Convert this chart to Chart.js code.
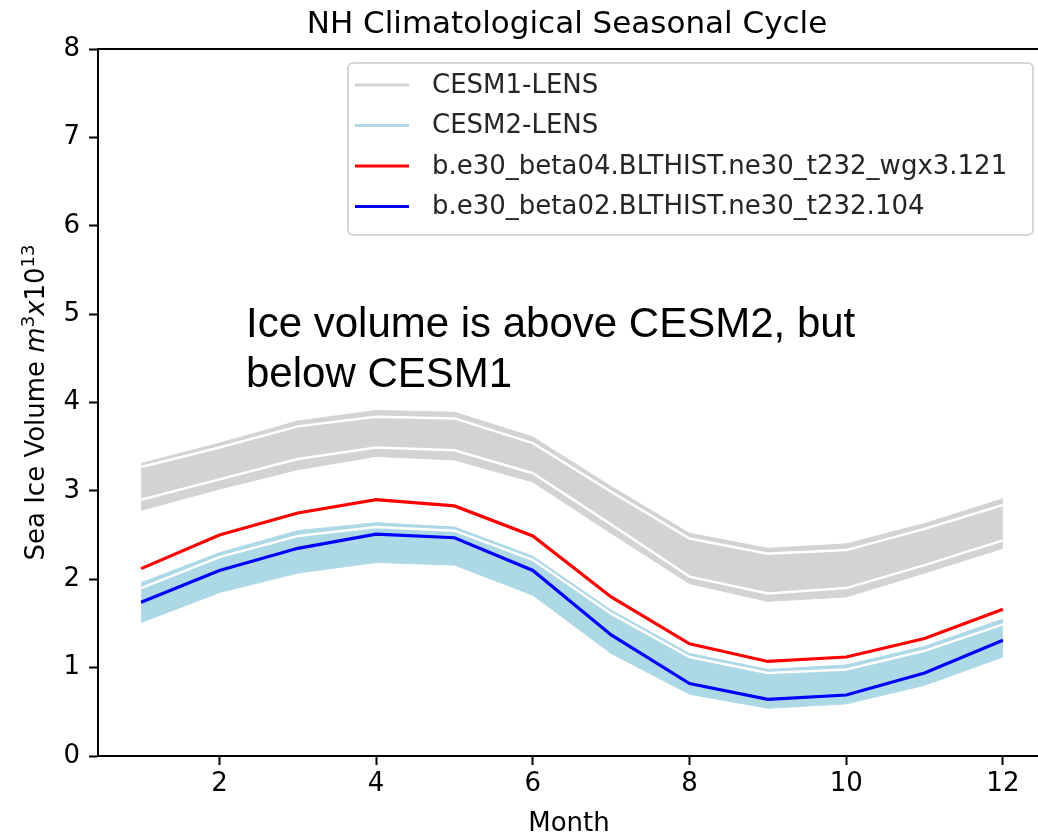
<!DOCTYPE html>
<html><head><meta charset="utf-8">
<script src="https://cdn.jsdelivr.net/npm/chart.js@4/dist/chart.umd.min.js"></script>
<style>
html,body{margin:0;padding:0;background:#fff;overflow:hidden;}
#wrap{position:relative;width:1038px;height:836px;overflow:hidden;}
</style></head><body>
<div id="wrap"><canvas id="c" width="1060" height="836"></canvas></div>
<script>
// ---- data ----
const months = [1,2,3,4,5,6,7,8,9,10,11,12];
const xTicks = [2,4,6,8,10,12];
const yTicks = [0,1,2,3,4,5,6,7,8];
const cesm1Upper      = [3.31,3.54,3.79,3.91,3.89,3.61,3.05,2.52,2.35,2.40,2.63,2.91];
const cesm1InnerUpper = [3.27,3.49,3.73,3.84,3.82,3.54,2.99,2.46,2.29,2.33,2.57,2.84];
const cesm1InnerLower = [2.90,3.13,3.36,3.49,3.46,3.20,2.62,2.03,1.84,1.90,2.16,2.44];
const cesm1Lower      = [2.78,3.02,3.24,3.39,3.35,3.10,2.52,1.95,1.75,1.80,2.07,2.35];
const cesm2Upper      = [1.96,2.30,2.55,2.64,2.59,2.26,1.65,1.16,0.98,1.03,1.24,1.55];
const cesm2Inner      = [1.90,2.25,2.49,2.59,2.55,2.22,1.61,1.12,0.94,0.98,1.19,1.49];
const cesm2Lower      = [1.51,1.85,2.07,2.19,2.16,1.82,1.16,0.70,0.54,0.59,0.80,1.12];
const beta04 = [2.12,2.50,2.75,2.90,2.83,2.49,1.80,1.27,1.07,1.12,1.33,1.66];
const beta02 = [1.74,2.10,2.35,2.51,2.47,2.10,1.37,0.82,0.64,0.69,0.94,1.31];
const seriesNames = ['CESM1-LENS','CESM2-LENS','b.e30_beta04.BLTHIST.ne30_t232_wgx3.121','b.e30_beta02.BLTHIST.ne30_t232.104'];
const seriesColors = ['#d3d3d3','#add8e6','#ff0000','#0000ff'];
const titleText = 'NH Climatological Seasonal Cycle';
const xLabel = 'Month';
const noteLines = ['Ice volume is above CESM2, but','below CESM1'];

const pts = arr => arr.map((v,i)=>({x:months[i], y:v}));

const datasets = [
  {data:pts(cesm1Upper), borderColor:seriesColors[0], backgroundColor:seriesColors[0], borderWidth:1, fill:1, order:8},
  {data:pts(cesm1Lower), borderColor:seriesColors[0], borderWidth:1, fill:false, order:8},
  {data:pts(cesm1InnerUpper), borderColor:'#ffffff', borderWidth:2.5, fill:false, order:7},
  {data:pts(cesm1InnerLower), borderColor:'#ffffff', borderWidth:2.5, fill:false, order:7},
  {data:pts(cesm2Upper), borderColor:seriesColors[1], backgroundColor:seriesColors[1], borderWidth:1, fill:5, order:6},
  {data:pts(cesm2Lower), borderColor:seriesColors[1], borderWidth:1, fill:false, order:6},
  {data:pts(cesm2Inner), borderColor:'#ffffff', borderWidth:2.5, fill:false, order:5},
  {data:pts(beta04), borderColor:seriesColors[2], borderWidth:3.2, fill:false, order:1},
  {data:pts(beta02), borderColor:seriesColors[3], borderWidth:3.2, fill:false, order:0},
];

const FONT = '"DejaVu Sans", sans-serif';

const decor = {
  id:'decor',
  afterDraw(chart){
    const ctx = chart.ctx, ca = chart.chartArea;
    ctx.save();
    // top spine
    ctx.strokeStyle='#000'; ctx.lineWidth=2;
    ctx.beginPath(); ctx.moveTo(ca.left-1, ca.top); ctx.lineTo(ca.right+20, ca.top); ctx.stroke();
    // title
    ctx.fillStyle='#000';
    ctx.font = '31px '+FONT; ctx.textAlign='center'; ctx.textBaseline='alphabetic';
    ctx.fillText(titleText, (ca.left+ca.right)/2 - 5, 33);
    // x label
    ctx.font = '26px '+FONT;
    ctx.fillText(xLabel, (ca.left+ca.right)/2 - 3, 831);
    // y label (rotated)
    const parts = [
      {t:'Sea Ice Volume ', f:'26px '+FONT, dy:0},
      {t:'m', f:'italic 26px '+FONT, dy:0},
      {t:'3', f:'18px '+FONT, dy:-10},
      {t:'x', f:'italic 26px '+FONT, dy:0},
      {t:'10', f:'26px '+FONT, dy:0},
      {t:'13', f:'18px '+FONT, dy:-10},
    ];
    let total=0; parts.forEach(p=>{ctx.font=p.f; p.w=ctx.measureText(p.t).width; total+=p.w;});
    ctx.translate(44, (ca.top+ca.bottom)/2);
    ctx.rotate(-Math.PI/2);
    ctx.textAlign='left';
    let px=-total/2;
    parts.forEach(p=>{ctx.font=p.f; ctx.fillText(p.t, px, p.dy); px+=p.w;});
    ctx.restore();

    // legend
    ctx.save();
    const lx=348, ly=63, lw=685, lh=172;
    ctx.fillStyle='rgba(255,255,255,0.8)'; ctx.strokeStyle='#cccccc'; ctx.lineWidth=1.5;
    ctx.beginPath();
    if (ctx.roundRect) ctx.roundRect(lx,ly,lw,lh,5); else ctx.rect(lx,ly,lw,lh);
    ctx.fill(); ctx.stroke();
    ctx.font='26px '+FONT; ctx.textBaseline='middle'; ctx.textAlign='left';
    seriesNames.forEach((n,i)=>{
      const y = 85 + i*40.5;
      ctx.strokeStyle=seriesColors[i]; ctx.lineWidth=3.2;
      ctx.beginPath(); ctx.moveTo(355,y); ctx.lineTo(409,y); ctx.stroke();
      ctx.fillStyle='#262626'; ctx.fillText(n, 432, y+1);
    });
    // annotation
    ctx.fillStyle='#000'; ctx.font='42px "Liberation Sans", Arial, sans-serif';
    ctx.textBaseline='alphabetic';
    noteLines.forEach((t,i)=>ctx.fillText(t, 246, 337+i*50));
    ctx.restore();
  }
};

new Chart(document.getElementById('c'), {
  type:'line',
  data:{datasets},
  options:{
    responsive:false, animation:false, devicePixelRatio:1,
    layout:{padding:{left:0, top:49, right:14, bottom:0}},
    elements:{point:{radius:0}, line:{tension:0}},
    plugins:{legend:{display:false}, tooltip:{enabled:false}, title:{display:false}},
    scales:{
      x:{type:'linear', min:0.45, max:12.55,
        afterBuildTicks:s=>{s.ticks = xTicks.map(v=>({value:v}));},
        afterFit:s=>{s.height=80;},
        grid:{drawOnChartArea:false, drawTicks:true, tickLength:9, tickWidth:2, tickColor:'#000'},
        border:{display:true, color:'#000', width:2},
        ticks:{color:'#000', font:{family:'DejaVu Sans', size:26}, padding:4, maxRotation:0}
      },
      y:{type:'linear', min:0, max:8,
        afterBuildTicks:s=>{s.ticks = yTicks.map(v=>({value:v}));},
        afterFit:s=>{s.width=98;},
        grid:{drawOnChartArea:false, drawTicks:true, tickLength:9, tickWidth:2, tickColor:'#000'},
        border:{display:true, color:'#000', width:2},
        ticks:{color:'#000', font:{family:'DejaVu Sans', size:26}, padding:9}
      }
    }
  },
  plugins:[decor]
});
</script>
</body></html>
